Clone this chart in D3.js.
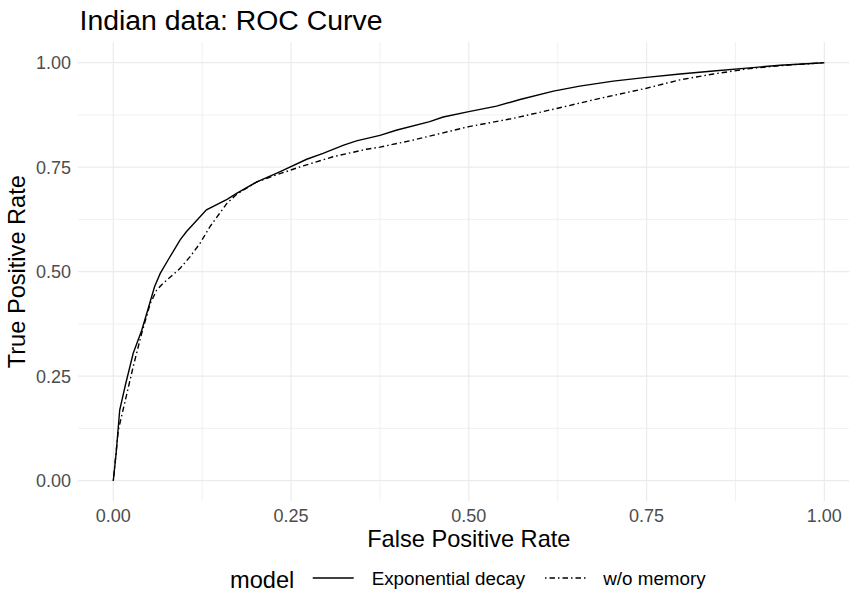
<!DOCTYPE html>
<html>
<head>
<meta charset="utf-8">
<script src="https://cdn.jsdelivr.net/npm/d3@7"></script>
<style>
  body { margin: 0; background: #fff; }
  svg { display: block; font-family: "Liberation Sans", Arial, sans-serif; }
</style>
</head>
<body>
<script>
// ROC curve values
var expFpr = [0, 0.004, 0.009, 0.017, 0.028, 0.040, 0.047, 0.058, 0.066, 0.077, 0.094, 0.103, 0.131, 0.160, 0.174, 0.202, 0.234, 0.272, 0.295, 0.324, 0.342, 0.375, 0.399, 0.445, 0.464, 0.500, 0.539, 0.572, 0.619, 0.656, 0.703, 0.750, 0.797, 0.844, 0.891, 0.938, 1];
var expTpr = [0, 0.066, 0.169, 0.229, 0.305, 0.360, 0.400, 0.464, 0.496, 0.528, 0.576, 0.596, 0.648, 0.673, 0.688, 0.715, 0.739, 0.769, 0.783, 0.803, 0.813, 0.826, 0.839, 0.859, 0.870, 0.883, 0.896, 0.912, 0.932, 0.944, 0.956, 0.965, 0.973, 0.980, 0.987, 0.994, 1];

var memFpr = [0, 0.007, 0.017, 0.028, 0.040, 0.052, 0.061, 0.070, 0.094, 0.108, 0.122, 0.136, 0.160, 0.174, 0.202, 0.225, 0.263, 0.309, 0.356, 0.375, 0.422, 0.500, 0.563, 0.625, 0.680, 0.750, 0.797, 0.844, 0.891, 0.938, 1];
var memTpr = [0, 0.121, 0.193, 0.273, 0.353, 0.424, 0.456, 0.472, 0.508, 0.536, 0.568, 0.608, 0.664, 0.686, 0.715, 0.729, 0.751, 0.775, 0.793, 0.798, 0.815, 0.847, 0.867, 0.891, 0.913, 0.939, 0.959, 0.973, 0.985, 0.993, 1];

var modelNames = ["Exponential decay", "w/o memory"];
var ticks = [0, 0.25, 0.5, 0.75, 1];
var minorTicks = [0.125, 0.375, 0.625, 0.875];

var W = 849, H = 594;
var dotdash = "1.5,3,5.5,3";

// panel: data range expanded by 5% on each side
var x = d3.scaleLinear().domain([-0.05, 1.05]).range([77.75, 859.9]);
var y = d3.scaleLinear().domain([-0.05, 1.05]).range([501.6, 41.8]);

var svg = d3.select("body").append("svg")
    .attr("width", W)
    .attr("height", H);

svg.append("clipPath").attr("id", "panel")
  .append("rect")
    .attr("x", x(-0.05)).attr("y", y(1.05))
    .attr("width", x(1.05) - x(-0.05))
    .attr("height", y(-0.05) - y(1.05));

var panel = svg.append("g").attr("clip-path", "url(#panel)");

// minor grid
panel.selectAll(".minx").data(minorTicks).enter().append("line")
    .attr("x1", d => x(d)).attr("x2", d => x(d))
    .attr("y1", y(-0.05)).attr("y2", y(1.05))
    .attr("stroke", "#ebebeb").attr("stroke-width", 0.7);
panel.selectAll(".miny").data(minorTicks).enter().append("line")
    .attr("y1", d => y(d)).attr("y2", d => y(d))
    .attr("x1", x(-0.05)).attr("x2", x(1.05))
    .attr("stroke", "#ebebeb").attr("stroke-width", 0.7);

// major grid
panel.selectAll(".majx").data(ticks).enter().append("line")
    .attr("x1", d => x(d)).attr("x2", d => x(d))
    .attr("y1", y(-0.05)).attr("y2", y(1.05))
    .attr("stroke", "#ebebeb").attr("stroke-width", 1.2);
panel.selectAll(".majy").data(ticks).enter().append("line")
    .attr("y1", d => y(d)).attr("y2", d => y(d))
    .attr("x1", x(-0.05)).attr("x2", x(1.05))
    .attr("stroke", "#ebebeb").attr("stroke-width", 1.2);

// curves
var line = d3.line().x(d => x(d[0])).y(d => y(d[1]));
var expData = d3.zip(expFpr, expTpr);
var memData = d3.zip(memFpr, memTpr);

panel.append("path").datum(memData)
    .attr("d", line)
    .attr("fill", "none").attr("stroke", "#000")
    .attr("stroke-width", 1.4)
    .attr("stroke-dasharray", dotdash);

panel.append("path").datum(expData)
    .attr("d", line)
    .attr("fill", "none").attr("stroke", "#000")
    .attr("stroke-width", 1.4);

// axes (text only, like theme_minimal)
svg.selectAll(".xt").data(ticks).enter().append("text")
    .attr("x", d => x(d)).attr("y", 521.5)
    .attr("text-anchor", "middle")
    .attr("font-size", 18).attr("fill", "#4d4d4d")
    .text(d => d3.format(".2f")(d));

svg.selectAll(".yt").data(ticks).enter().append("text")
    .attr("x", 71).attr("y", d => y(d))
    .attr("dy", "0.36em")
    .attr("text-anchor", "end")
    .attr("font-size", 18).attr("fill", "#4d4d4d")
    .text(d => d3.format(".2f")(d));

svg.append("text")
    .attr("x", (x(-0.05) + x(1.05)) / 2).attr("y", 546.5)
    .attr("text-anchor", "middle")
    .attr("font-size", 23.6)
    .text("False Positive Rate");

svg.append("text")
    .attr("transform", "translate(24.5," + ((y(-0.05) + y(1.05)) / 2) + ") rotate(-90)")
    .attr("text-anchor", "middle")
    .attr("font-size", 23.6)
    .text("True Positive Rate");

svg.append("text")
    .attr("x", 79.5).attr("y", 29.5)
    .attr("font-size", 28.4)
    .text("Indian data: ROC Curve");

// legend
var legend = svg.append("g");
legend.append("text")
    .attr("x", 230).attr("y", 588)
    .attr("font-size", 23.6)
    .text("model");

var keyX = [312.7, 545];
var labX = [371.7, 603.3];
var dashes = [null, dotdash];
modelNames.forEach(function(name, i) {
  legend.append("line")
      .attr("x1", keyX[i]).attr("x2", keyX[i] + 41)
      .attr("y1", 578).attr("y2", 578)
      .attr("stroke", "#000").attr("stroke-width", 1.4)
      .attr("stroke-dasharray", dashes[i]);
  legend.append("text")
      .attr("x", labX[i]).attr("y", 584.5)
      .attr("font-size", 18.8)
      .text(name);
});
</script>
</body>
</html>
